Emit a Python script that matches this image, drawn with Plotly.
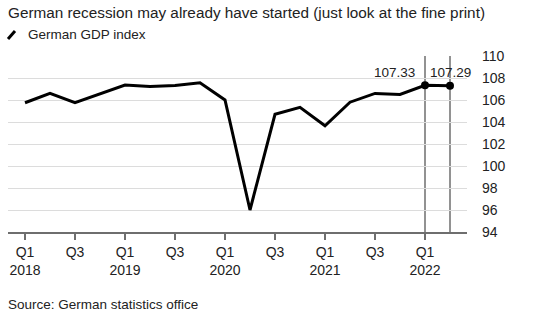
import plotly.graph_objects as go

quarters = ["Q1 2018","Q2 2018","Q3 2018","Q4 2018","Q1 2019","Q2 2019","Q3 2019","Q4 2019",
            "Q1 2020","Q2 2020","Q3 2020","Q4 2020","Q1 2021","Q2 2021","Q3 2021","Q4 2021",
            "Q1 2022","Q2 2022"]
gdp_index = [105.75, 106.6, 105.75, 106.55, 107.36, 107.22, 107.32, 107.57,
             106.0, 96.0, 104.7, 105.33, 103.66, 105.8, 106.6, 106.5,
             107.33, 107.29]
tick_idx = [0, 2, 4, 6, 8, 10, 12, 14, 16]
tick_text = ["Q1<br>2018", "Q3", "Q1<br>2019", "Q3", "Q1<br>2020", "Q3", "Q1<br>2021", "Q3", "Q1<br>2022"]
y_ticks = [94, 96, 98, 100, 102, 104, 106, 108, 110]

x = list(range(len(quarters)))
FONT = "Liberation Sans, Arial, sans-serif"

fig = go.Figure()
fig.add_trace(go.Scatter(x=x, y=gdp_index, mode="lines", line=dict(color="#000", width=3),
                         hoverinfo="skip", showlegend=False))
fig.add_trace(go.Scatter(x=x[-2:], y=gdp_index[-2:], mode="markers",
                         marker=dict(color="#000", size=8), hoverinfo="skip", showlegend=False))

for i in (16, 17):
    fig.add_shape(type="line", xref="x", yref="y", x0=i, x1=i, y0=94, y1=110,
                  line=dict(color="#6e6e6e", width=1.5), layer="below")

fig.add_annotation(x=16, y=gdp_index[16], xref="x", yref="y", text=f"{gdp_index[16]:.2f}",
                   showarrow=False, xanchor="right", yanchor="bottom", xshift=-8, yshift=3,
                   font=dict(family=FONT, size=13.5, color="#222"))
fig.add_annotation(x=17, y=gdp_index[17], xref="x", yref="y", text=f"{gdp_index[17]:.2f}",
                   showarrow=False, xanchor="center", yanchor="bottom", yshift=4,
                   font=dict(family=FONT, size=13.5, color="#222"))

# title, legend, source (pixel coords, converted below)
fig.add_annotation(x=6, y=13, text="German recession may already have started (just look at the fine print)",
                   showarrow=False, xanchor="left", yanchor="middle",
                   font=dict(family=FONT, size=15.3, color="#222"))
fig.add_annotation(x=26, y=35, text="German GDP index", showarrow=False, xanchor="left", yanchor="middle",
                   font=dict(family=FONT, size=13.5, color="#222"))
fig.add_annotation(x=6, y=304, text="Source: German statistics office", showarrow=False,
                   xanchor="left", yanchor="middle", font=dict(family=FONT, size=13.5, color="#222"))

L, R, T, B = 8, 73, 56, 96
W, H = 540, 328
pw, ph = W - L - R, H - T - B
for a in fig.layout.annotations[2:]:
    a.xref = "paper"; a.yref = "paper"
    a.x = (a.x - L) / pw
    a.y = (H - B - a.y) / ph

def px2paper(px, py):
    return (px - L) / pw, (H - B - py) / ph

x0p, y0p = px2paper(8, 39)
x1p, y1p = px2paper(15, 31)
fig.add_shape(type="line", xref="paper", yref="paper", x0=x0p, y0=y0p, x1=x1p, y1=y1p,
              line=dict(color="#000", width=3))

fig.update_layout(
    width=W, height=H, margin=dict(l=L, r=R, t=T, b=B),
    paper_bgcolor="white", plot_bgcolor="white",
    font=dict(family=FONT, size=14, color="#222"),
    xaxis=dict(range=[-0.68, 17.68], tickvals=tick_idx, ticktext=tick_text, showgrid=False,
               showline=True, linecolor="#6e6e6e", linewidth=2, ticks="outside", ticklen=6,
               tickcolor="#6e6e6e", tickwidth=1.5, zeroline=False, fixedrange=True,
               tickfont=dict(family=FONT, size=14, color="#222")),
    yaxis=dict(range=[94, 110], tickvals=y_ticks, side="right", showgrid=True, gridcolor="#dcdcdc",
               gridwidth=1, zeroline=False, ticks="", ticklabelstandoff=14,
               tickfont=dict(family=FONT, size=14, color="#222"), fixedrange=True),
)
fig.write_html("out.html")
